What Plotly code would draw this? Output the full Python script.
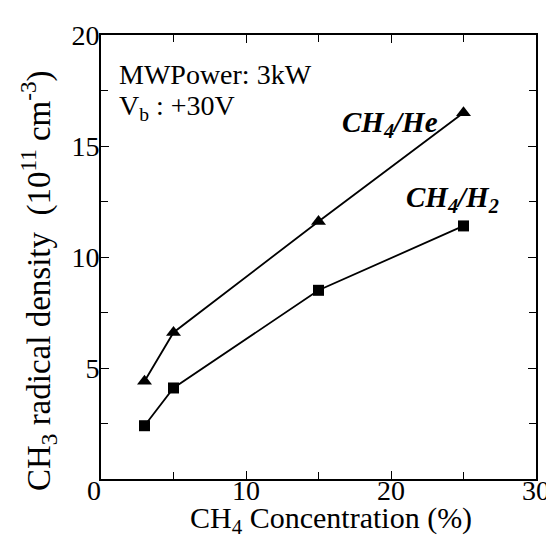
import plotly.graph_objects as go

conc = [3, 5, 15, 25]
ch4_he = [4.4, 6.6, 11.6, 16.5]
ch4_h2 = [2.4, 4.1, 8.5, 11.4]

x_ticks = [0, 10, 20, 30]
x_labels = ["0\u00a0\u00a0", "10", "20", "30"]
y_ticks = [0, 5, 10, 15, 20]
y_labels = ["", "5", "10", "15", "20"]

FONT = "Liberation Serif"

fig = go.Figure()
fig.add_trace(go.Scatter(x=conc, y=ch4_he, mode="lines+markers", name="CH4/He",
                         line=dict(color="black", width=1.8),
                         marker=dict(symbol="triangle-up", size=13, color="black")))
fig.add_trace(go.Scatter(x=conc, y=ch4_h2, mode="lines+markers", name="CH4/H2",
                         line=dict(color="black", width=1.8),
                         marker=dict(symbol="square", size=11, color="black")))

axis_common = dict(showline=True, linecolor="black", linewidth=1.8, mirror="ticks",
                   ticks="inside", ticklen=8, tickwidth=1.4, tickcolor="black",
                   showgrid=False, zeroline=False,
                   tickfont=dict(family=FONT, size=28, color="black"))

fig.update_xaxes(range=[0, 30], tickvals=x_ticks, ticktext=x_labels,
                 minor=dict(dtick=5, ticks="inside", ticklen=7, tickcolor="black", tickwidth=1.4),
                 ticklabelstandoff=-15, **axis_common)
fig.update_yaxes(range=[0, 20], tickvals=y_ticks, ticktext=y_labels,
                 minor=dict(dtick=2.5, ticks="inside", ticklen=7, tickcolor="black", tickwidth=1.4),
                 ticklabelstandoff=-6, **axis_common)

# axis titles
fig.add_annotation(x=0.529, y=-0.092, xref="paper", yref="paper",
                   text="CH<sub>4</sub> Concentration (%)", showarrow=False,
                   xanchor="center", yanchor="middle",
                   font=dict(family=FONT, size=30, color="black"))
fig.add_annotation(x=-0.145, y=0.448, xref="paper", yref="paper", textangle=-90,
                   text="CH<sub>3</sub> radical density  (10<sup>11</sup> cm<sup>-3</sup>)",
                   showarrow=False, xanchor="center", yanchor="middle",
                   font=dict(family=FONT, size=33, color="black"))

ann_font = dict(family=FONT, size=28, color="black")
fig.add_annotation(x=1.1, y=18.2, xref="x", yref="y", text="MWPower: 3kW", showarrow=False,
                   xanchor="left", yanchor="middle", font=ann_font)
fig.add_annotation(x=1.1, y=16.75, xref="x", yref="y", text="V<sub>b</sub> : +30V", showarrow=False,
                   xanchor="left", yanchor="middle", font=ann_font)
fig.add_annotation(x=19.9, y=16.0, xref="x", yref="y", text="<b><i>CH<sub>4</sub>/He</i></b>",
                   showarrow=False, xanchor="center", yanchor="middle",
                   font=dict(family=FONT, size=29, color="black"))
fig.add_annotation(x=24.25, y=12.6, xref="x", yref="y", text="<b><i>CH<sub>4</sub>/H<sub>2</sub></i></b>",
                   showarrow=False, xanchor="center", yanchor="middle",
                   font=dict(family=FONT, size=29, color="black"))

fig.update_layout(width=554, height=536, margin=dict(l=93, r=13, t=25, b=65),
                  paper_bgcolor="white", plot_bgcolor="white", showlegend=False,
                  font=dict(family=FONT, color="black"))

fig.write_html("out.html")
